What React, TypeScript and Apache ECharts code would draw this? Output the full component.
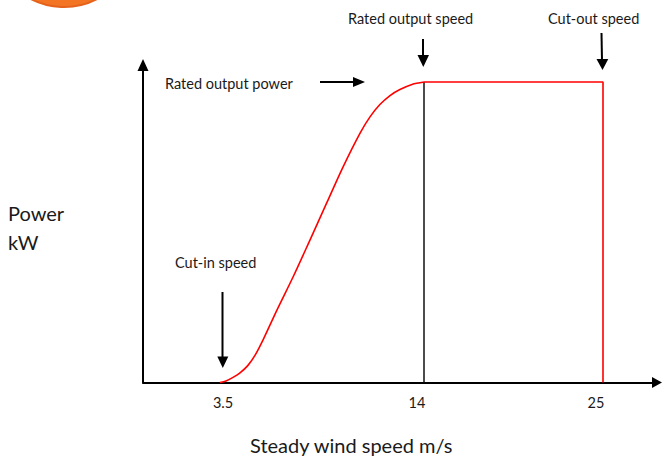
import React, { useEffect, useRef } from "react";
import * as echarts from "echarts";

// Power curve (wind speed m/s -> power, % of rated)
const curveSpeed = [3.5, 3.81, 4.17, 4.53, 4.94, 5.3, 5.71, 6.43, 7.26, 8.13, 9.01, 9.83, 10.71, 11.22, 11.73, 12.25, 12.76, 13.38, 14];
const curvePower = [0, 0.5, 1.7, 3.2, 5.7, 9.0, 14.1, 24.1, 35.1, 47.4, 60.0, 71.7, 83.0, 88.4, 92.5, 95.5, 97.5, 99.2, 100];
const cutInSpeed = 3.5;
const ratedSpeed = 14;
const cutOutSpeed = 25;
const ratedPower = 100;
const ticksLeft = [3.5];
const ticksRight = [14, 25];

const FONT = "Lato, 'Open Sans', sans-serif";
const INK = "#1a1a1a";

export default function App() {
  const ref = useRef<HTMLDivElement>(null);
  useEffect(() => {
    document.body.style.margin = "0";
    if (!ref.current) return;
    const chart = echarts.init(ref.current, undefined, { renderer: "svg" });

    // layout (pixels)
    const axisY = 382.5;
    const yAxisX = 143;
    const top = 65;
    const splitX = 424; // x pixel of rated speed
    const cutInX = 220;
    const cutOutX = 603;
    const rightEnd = 657;
    const pxA = (splitX - cutInX) / (ratedSpeed - cutInSpeed);
    const pxB = (cutOutX - splitX) / (cutOutSpeed - ratedSpeed);
    const minA = cutInSpeed - (cutInX - yAxisX) / pxA;
    const maxB = ratedSpeed + (rightEnd - splitX) / pxB;
    const ratedY = 82;
    const yMax = (ratedPower * (axisY - top)) / (axisY - ratedY);
    const H = 458;

    const arrowLine = (x1: number, y1: number, x2: number, y2: number) => ({
      type: "line",
      shape: { x1, y1, x2, y2 },
      style: { stroke: "#000", lineWidth: 2 },
    });
    const tri = (pts: number[][]) => ({
      type: "polygon",
      shape: { points: pts },
      style: { fill: "#000" },
    });
    const txt = (text: string, x: number, y: number, size: number) => ({
      type: "text",
      x,
      y,
      style: {
        text,
        font: `${size}px ${FONT}`,
        fill: INK,
        align: "left",
        verticalAlign: "middle",
        textAlign: "left",
        textVerticalAlign: "middle",
      },
    });

    const axisLineStyle = { color: "#000", width: 2 };

    chart.setOption({
      animation: false,
      grid: [
        { left: yAxisX, top, width: splitX - yAxisX, bottom: H - axisY, containLabel: false },
        { left: splitX, top, width: rightEnd - splitX, bottom: H - axisY, containLabel: false },
      ],
      xAxis: [
        {
          type: "value",
          gridIndex: 0,
          min: minA,
          max: ratedSpeed,
          axisLine: { show: true, onZero: false, lineStyle: axisLineStyle },
          axisTick: { show: false },
          splitLine: { show: false },
          axisLabel: {
            customValues: ticksLeft,
            margin: 12,
            fontSize: 14.5,
            fontFamily: FONT,
            color: INK,
            padding: [0, 0, 0, 6],
          },
        },
        {
          type: "value",
          gridIndex: 1,
          min: ratedSpeed,
          max: maxB,
          axisLine: {
            show: true,
            onZero: false,
            lineStyle: axisLineStyle,
            symbol: ["none", "triangle"],
            symbolSize: [11, 10],
          },
          axisTick: { show: false },
          splitLine: { show: false },
          axisLabel: {
            customValues: ticksRight,
            showMinLabel: true,
            margin: 12,
            fontSize: 14.5,
            fontFamily: FONT,
            color: INK,
            padding: [0, 14, 0, 0],
          },
        },
      ],
      yAxis: [
        {
          type: "value",
          gridIndex: 0,
          min: 0,
          max: yMax,
          axisLine: {
            show: true,
            onZero: false,
            lineStyle: axisLineStyle,
            symbol: ["none", "triangle"],
            symbolSize: [11, 12],
          },
          axisTick: { show: false },
          axisLabel: { show: false },
          splitLine: { show: false },
        },
        {
          type: "value",
          gridIndex: 1,
          min: 0,
          max: yMax,
          axisLine: { show: false },
          axisTick: { show: false },
          axisLabel: { show: false },
          splitLine: { show: false },
        },
      ],
      series: [
        {
          name: "Power curve",
          type: "line",
          xAxisIndex: 0,
          yAxisIndex: 0,
          data: curveSpeed.map((s, i) => [s, curvePower[i]]),
          smooth: 0.3,
          showSymbol: false,
          symbol: "none",
          clip: false,
          lineStyle: { color: "#ff0000", width: 1.6 },
          z: 3,
        },
        {
          name: "Rated speed",
          type: "line",
          xAxisIndex: 1,
          yAxisIndex: 1,
          data: [
            [ratedSpeed, 0],
            [ratedSpeed, ratedPower],
          ],
          symbol: "none",
          clip: false,
          lineStyle: { color: "#111", width: 1.5 },
          z: 2,
        },
        {
          name: "Rated power",
          type: "line",
          xAxisIndex: 1,
          yAxisIndex: 1,
          data: [
            [ratedSpeed, ratedPower],
            [cutOutSpeed, ratedPower],
            [cutOutSpeed, 0],
          ],
          symbol: "none",
          clip: false,
          lineStyle: { color: "#ff0000", width: 1.6 },
          z: 3,
        },
      ],
      graphic: [
        {
          type: "circle",
          shape: { cx: 64, cy: -66, r: 73 },
          style: { fill: "#f37524", stroke: "#e4621b", lineWidth: 2 },
          z: 10,
        },
        txt("Rated output power", 165, 83, 14.5),
        arrowLine(320, 82, 355, 82),
        tri([[353, 77], [365, 82], [353, 87]]),
        txt("Rated output speed", 348, 18, 14.5),
        arrowLine(423, 39, 423, 57),
        tri([[417.5, 55], [423.3, 67], [429, 55]]),
        txt("Cut-out speed", 548, 18, 14.5),
        arrowLine(601.5, 33, 602, 61),
        tri([[596.5, 59], [602.5, 70], [608.3, 59]]),
        txt("Cut-in speed", 175, 262, 14.5),
        arrowLine(222.5, 292, 222.5, 358),
        tri([[217.3, 356.5], [222.8, 368], [228.3, 356.5]]),
        txt("Power", 8, 213, 20),
        txt("kW", 8, 242, 20),
        txt("Steady wind speed m/s", 250, 445, 20),
      ],
    });
    return () => chart.dispose();
  }, []);
  return (
    <div
      ref={ref}
      style={{ position: "absolute", left: 0, top: 0, width: 662, height: 458 }}
    />
  );
}
